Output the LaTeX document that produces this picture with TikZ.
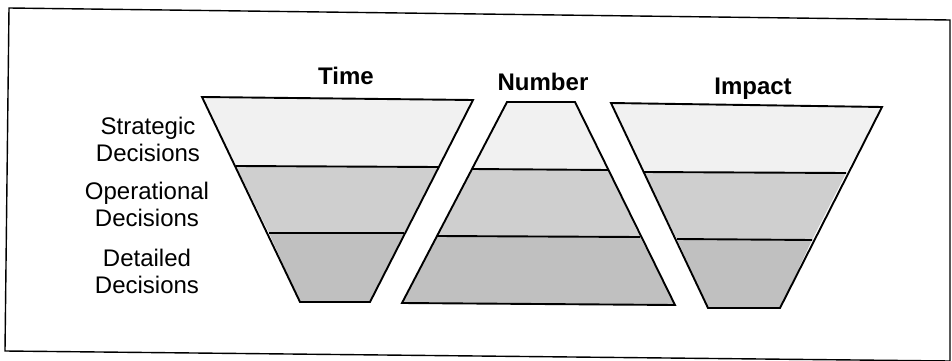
\documentclass[tikz,border=0pt]{standalone}
\usepackage{fontspec}
\setmainfont{Liberation Sans}
\definecolor{bandA}{HTML}{F1F1F1}
\definecolor{bandB}{HTML}{CFCFCF}
\definecolor{bandC}{HTML}{C0C0C0}
\tikzset{
  outline/.style={line width=1.9pt, line join=miter},
  divider/.style={line width=1.9pt},
  frameline/.style={line width=1.4pt},
  title/.style={font=\fontsize{24}{28}\selectfont\bfseries, inner sep=0pt},
  rowlabel/.style={font=\fontsize{24}{27}\selectfont, align=center, inner sep=0pt}
}
\begin{document}
\begin{tikzpicture}[x=1pt,y=-1pt]
\useasboundingbox (0,0) rectangle (952,361);
\fill[white] (0,0) rectangle (952,361);
% frame
\draw[frameline] (9,8) -- (950,20) -- (950,361) -- (5,351) -- cycle;

% Time (inverted trapezoid)
\coordinate (tTL) at (202,97);  \coordinate (tTR) at (473,100);
\coordinate (tAL) at (236,166); \coordinate (tAR) at (438,167);
\coordinate (tBL) at (269,233); \coordinate (tBR) at (404,233);
\coordinate (tDL) at (300,302); \coordinate (tDR) at (370,302);
\fill[bandA] (tTL) -- (tTR) -- (tAR) -- (tAL) -- cycle;
\fill[bandB] (tAL) -- (tAR) -- (tBR) -- (tBL) -- cycle;
\fill[bandC] (tBL) -- (tBR) -- (tDR) -- (tDL) -- cycle;
\draw[divider] (tAL) -- (tAR);
\draw[divider] (tBL) -- (tBR);
\draw[outline] (tTL) -- (tTR) -- (tDR) -- (tDL) -- cycle;

% Number (upright trapezoid)
\coordinate (nTL) at (507,102); \coordinate (nTR) at (575,102);
\coordinate (nAL) at (472,169); \coordinate (nAR) at (608,170);
\coordinate (nBL) at (437,236); \coordinate (nBR) at (640,237);
\coordinate (nDL) at (402,303); \coordinate (nDR) at (675,305);
\fill[bandA] (nTL) -- (nTR) -- (nAR) -- (nAL) -- cycle;
\fill[bandB] (nAL) -- (nAR) -- (nBR) -- (nBL) -- cycle;
\fill[bandC] (nBL) -- (nBR) -- (nDR) -- (nDL) -- cycle;
\draw[divider] (nAL) -- (nAR);
\draw[divider] (nBL) -- (nBR);
\draw[outline] (nTL) -- (nTR) -- (nDR) -- (nDL) -- cycle;

% Impact (inverted trapezoid)
\coordinate (iTL) at (611,103); \coordinate (iTR) at (882,107);
\coordinate (iAL) at (643,172); \coordinate (iAR) at (846,173);
\coordinate (iBL) at (677,239); \coordinate (iBR) at (812,240);
\coordinate (iDL) at (708,308); \coordinate (iDR) at (780,308);
\fill[bandA] (iTL) -- (iTR) -- (iAR) -- (iAL) -- cycle;
\fill[bandB] (iAL) -- (iAR) -- (iBR) -- (iBL) -- cycle;
\fill[bandC] (iBL) -- (iBR) -- (iDR) -- (iDL) -- cycle;
\draw[divider] (iAL) -- (iAR);
\draw[divider] (iBL) -- (iBR);
\draw[outline] (iTL) -- (iTR) -- (iDR) -- (iDL) -- cycle;

% titles
\node[title] (ttime) at (346,76) {Time};
\node[title] (tnum) at (543,82) {Number};
\node[title] (timp) at (753,89) {Impact};

% row labels
\node[rowlabel] (lstrat) at (148,139) {Strategic\\Decisions};
\node[rowlabel] (loper) at (147,204) {Operational\\Decisions};
\node[rowlabel] (ldet) at (147,271) {Detailed\\Decisions};
\end{tikzpicture}
\end{document}
